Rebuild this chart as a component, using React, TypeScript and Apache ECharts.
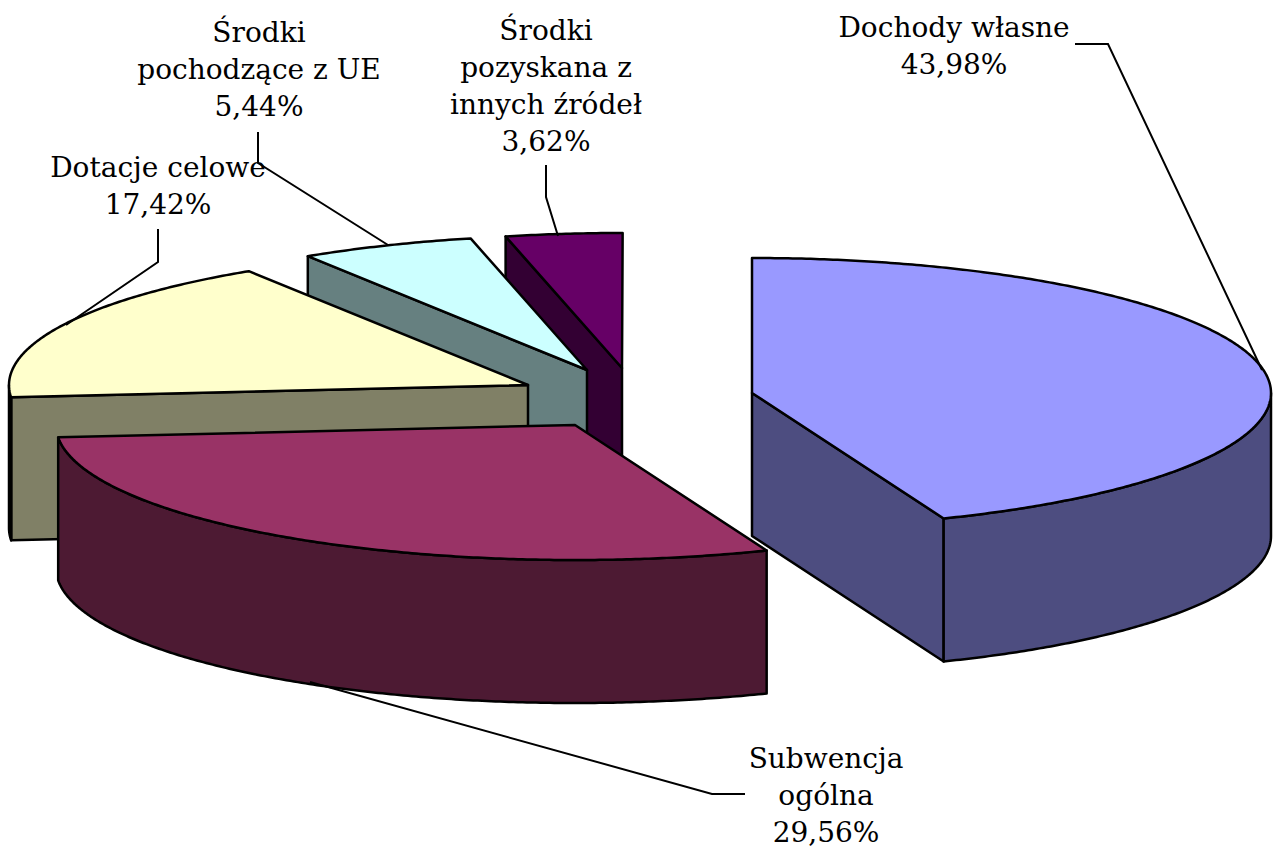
import React, { useEffect, useRef } from "react";
import * as echarts from "echarts";

const categories = ["Dochody własne", "Subwencja ogólna", "Dotacje celowe", "Środki pochodzące z UE", "Środki pozyskana z innych źródeł"];
const labelLines = [["Dochody własne"], ["Subwencja", "ogólna"], ["Dotacje celowe"], ["Środki", "pochodzące z UE"], ["Środki", "pozyskana z", "innych źródeł"]];
const values = [43.98, 29.56, 17.42, 5.44, 3.62];
const topColors = ["#9999FF", "#993366", "#FFFFCC", "#CCFFFF", "#660066"];
const sideColors = ["#4D4D80", "#4D1A33", "#808066", "#668080", "#330033"];
const centers = [[752, 393], [575, 425], [528, 385], [587, 370], [622, 368]];
const labelPos = [[954, 9], [826, 740], [158, 149], [259, 14], [546, 12]];
const leaders = [
  [[1075, 44], [1108, 44], [1262, 370]],
  [[310, 682], [712, 794], [745, 794]],
  [[66, 325], [158, 262], [158, 229]],
  [[388, 245], [258, 163], [258, 132]],
  [[558, 236], [546, 197], [546, 165]],
];
const RX = 519, RY = 135, DEPTH = 143;
const FONT = "'DejaVu Serif'";
const drawOrder = [4, 3, 2, 1, 0];

const starts: number[] = [];
values.reduce((acc, v, i) => { starts[i] = acc; return acc + v; }, 0);

function renderSlice(_params: any, api: any) {
  const idx = api.value(2);
  const a0 = (api.value(1) / 100) * 360;
  const a1 = ((api.value(1) + api.value(0)) / 100) * 360;
  const [cx, cy] = centers[idx];
  const pt = (deg: number, dz = 0): number[] => {
    const r = (deg * Math.PI) / 180;
    return [cx + RX * Math.sin(r), cy - RY * Math.cos(r) + dz];
  };
  const arc = (from: number, to: number, dz = 0): number[][] => {
    const out: number[][] = [];
    const n = Math.max(2, Math.ceil(Math.abs(to - from) * 2));
    for (let i = 0; i <= n; i++) out.push(pt(from + ((to - from) * i) / n, dz));
    return out;
  };
  const stroke = { stroke: "#000", lineWidth: 2.5, lineJoin: "round" };
  const poly = (points: number[][], fill: string) => ({ type: "polygon", shape: { points }, style: { fill, ...stroke } });
  const radial = (deg: number) => {
    const p = pt(deg);
    return poly([[cx, cy], p, [p[0], p[1] + DEPTH], [cx, cy + DEPTH]], sideColors[idx]);
  };
  const children: any[] = [];
  if (a0 > 180 && a0 < 360) children.push(radial(a0));
  if (a1 > 0 && a1 < 180) children.push(radial(a1));
  const f0 = Math.max(a0, 90), f1 = Math.min(a1, 270);
  if (f1 > f0) children.push(poly([...arc(f0, f1), ...arc(f1, f0, DEPTH)], sideColors[idx]));
  children.push(poly([[cx, cy], ...arc(a0, a1)], topColors[idx]));
  return { type: "group", children };
}

export default function App() {
  const ref = useRef<HTMLDivElement>(null);
  useEffect(() => {
    const chart = echarts.init(ref.current!, undefined, { renderer: "svg" });
    const labels = categories.map((_, i) => ({
      type: "text",
      z: 20,
      x: labelPos[i][0],
      y: labelPos[i][1],
      style: {
        text: [...labelLines[i], values[i].toFixed(2).replace(".", ",") + "%"].join("\n"),
        font: `28px ${FONT}`,
        fill: "#000",
        align: "center",
        verticalAlign: "top",
        lineHeight: 37,
      },
    }));
    const lines = leaders.map((points) => ({
      type: "polyline",
      z: 10,
      shape: { points },
      style: { stroke: "#000", lineWidth: 2, fill: "none" },
    }));
    chart.setOption({
      animation: false,
      backgroundColor: "#fff",
      series: drawOrder.map((i) => ({
        type: "custom",
        name: categories[i],
        coordinateSystem: "none",
        renderItem: renderSlice,
        silent: true,
        data: [[values[i], starts[i], i]],
      })),
      graphic: [...lines, ...labels],
    });
    return () => chart.dispose();
  }, []);
  return <div ref={ref} style={{ position: "absolute", left: 0, top: 0, width: 1274, height: 848 }} />;
}
